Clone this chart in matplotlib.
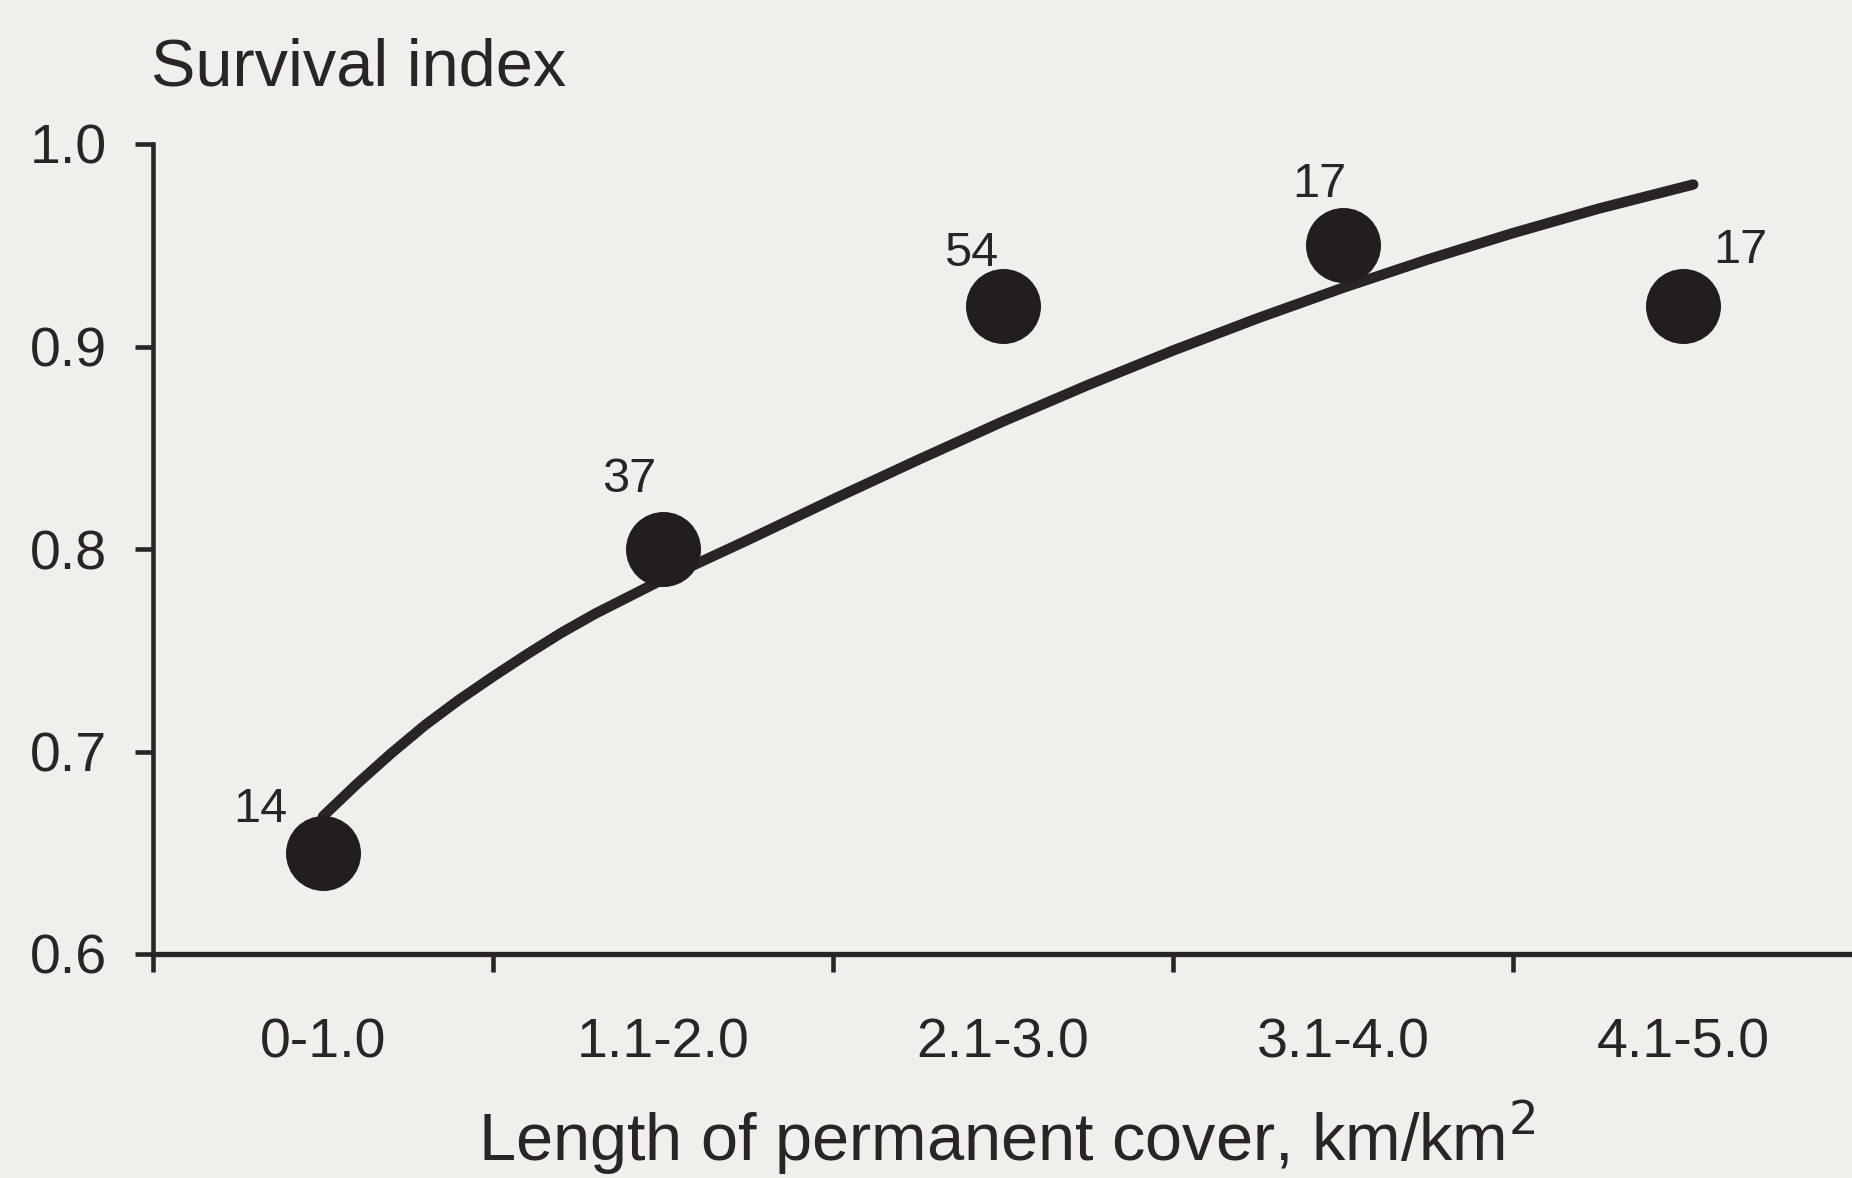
import matplotlib
matplotlib.use('Agg')
import matplotlib.pyplot as plt

categories = ['0-1.0', '1.1-2.0', '2.1-3.0', '3.1-4.0', '4.1-5.0']
survival = [0.65, 0.80, 0.92, 0.95, 0.92]
counts = ['14', '37', '54', '17', '17']

# fitted curve
curve_x = [0.0, 0.1, 0.2, 0.3, 0.4, 0.5, 0.6, 0.7, 0.8, 0.9, 1.0, 1.25, 1.5,
           1.75, 2.0, 2.25, 2.5, 2.75, 3.0, 3.25, 3.5, 3.75, 4.03]
curve_y = [0.668, 0.684, 0.699, 0.713, 0.7255, 0.737, 0.748, 0.7585, 0.768,
           0.7765, 0.785, 0.8045, 0.8245, 0.844, 0.863, 0.881, 0.898, 0.914,
           0.929, 0.943, 0.956, 0.968, 0.980]

label_offsets = [(-45, 31), (-24, 50), (-23, 38), (-17, 44), (41, 40)]

bg = '#efefeb'
ink = '#2a2525'

plt.rcParams['font.family'] = ['Liberation Sans', 'DejaVu Sans']

W, H = 1852, 1178
fig = plt.figure(figsize=(W / 100, H / 100), dpi=100, facecolor=bg)
ax = fig.add_axes([153 / W, (H - 954) / H, 1700 / W, 810 / H])
ax.set_facecolor(bg)

ax.plot(curve_x, curve_y, color=ink, lw=7.5, solid_capstyle='round',
        solid_joinstyle='round', zorder=2)
ax.plot(range(len(survival)), survival, 'o', color='#221e1e', ms=54,
        mec='none', zorder=3)

for i, (v, c) in enumerate(zip(survival, counts)):
    ax.annotate(c, (i, v), xytext=label_offsets[i], textcoords='offset points',
                ha='center', va='center', fontsize=35, color=ink)

ax.set_xlim(-0.5, 4.5)
ax.set_ylim(0.6, 1.0)

ax.spines['top'].set_visible(False)
ax.spines['right'].set_visible(False)
ax.spines['left'].set_linewidth(3.3)
ax.spines['bottom'].set_linewidth(3.8)
ax.spines['left'].set_color(ink)
ax.spines['bottom'].set_color(ink)

ax.set_yticks([0.6, 0.7, 0.8, 0.9, 1.0])
ax.set_yticklabels(['0.6', '0.7', '0.8', '0.9', '1.0'])
ax.tick_params(axis='y', direction='out', length=13, width=3.3, pad=20,
               labelsize=40, colors=ink)

# ticks at the class boundaries, labels centred on each class
ax.set_xticks([-0.5, 0.5, 1.5, 2.5, 3.5])
ax.set_xticklabels([])
ax.set_xticks(range(len(categories)), minor=True)
ax.set_xticklabels(categories, minor=True)
ax.tick_params(axis='x', which='major', direction='out', length=13, width=3.3,
               colors=ink)
ax.tick_params(axis='x', which='minor', length=0, pad=46, labelsize=40,
               colors=ink)

fig.text(151 / W, 1 - 85 / H, 'Survival index', fontsize=48, color=ink,
         ha='left', va='baseline')
fig.text(1007 / W, 1 - 1161 / H, 'Length of permanent cover, km/km$^2$',
         fontsize=48, color=ink, ha='center', va='baseline')

fig.savefig('out.png', dpi=100, facecolor=bg)
